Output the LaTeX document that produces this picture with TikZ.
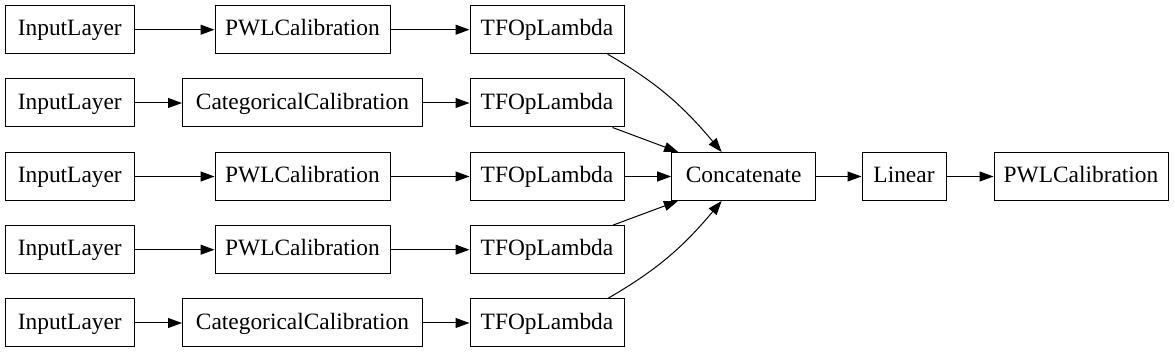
\documentclass[tikz,border=0pt]{standalone}
\usepackage{fontspec}
\setmainfont{Liberation Serif}
\usetikzlibrary{positioning, arrows.meta}

\begin{document}
\begin{tikzpicture}[
  x=0.5pt, y=-0.5pt,
  layer/.style={rectangle, draw, line width=0.5pt, inner sep=0pt,
                minimum height=24pt, text height=8.3pt, text depth=2pt,
                font=\fontsize{11.7}{14}\selectfont},
  arr/.style={-{Triangle[length=7pt,width=5pt]}, line width=0.5pt}
]
  \useasboundingbox (0,0) rectangle (1175,353);

  % inputs
  \node[layer, minimum width=64.5pt] (in1) at (69.8,29.7)  {InputLayer};
  \node[layer, minimum width=64.5pt] (in2) at (69.8,103)   {InputLayer};
  \node[layer, minimum width=64.5pt] (in3) at (69.8,176.5) {InputLayer};
  \node[layer, minimum width=64.5pt] (in4) at (69.8,249.7) {InputLayer};
  \node[layer, minimum width=64.5pt] (in5) at (69.8,323)   {InputLayer};

  % calibrators
  \node[layer, minimum width=87.5pt] (cal1) at (302.5,29.7)  {PWLCalibration};
  \node[layer, minimum width=120pt]  (cal2) at (302.5,103)   {CategoricalCalibration};
  \node[layer, minimum width=87.5pt] (cal3) at (302.5,176.5) {PWLCalibration};
  \node[layer, minimum width=87.5pt] (cal4) at (302.5,249.7) {PWLCalibration};
  \node[layer, minimum width=120pt]  (cal5) at (302.5,323)   {CategoricalCalibration};

  % lambdas
  \node[layer, minimum width=77pt] (tf1) at (547,29.7)  {TFOpLambda};
  \node[layer, minimum width=77pt] (tf2) at (547,103)   {TFOpLambda};
  \node[layer, minimum width=77pt] (tf3) at (547,176.5) {TFOpLambda};
  \node[layer, minimum width=77pt] (tf4) at (547,249.7) {TFOpLambda};
  \node[layer, minimum width=77pt] (tf5) at (547,323)   {TFOpLambda};

  % output chain
  \node[layer, minimum width=72pt] (concat) at (743.7,176.5) {Concatenate};
  \node[layer, minimum width=42pt] (linear) at (904,176.5)   {Linear};
  \node[layer, minimum width=87pt] (out)    at (1081,176.5)  {PWLCalibration};

  \draw[arr] (in1) -- (cal1);
  \draw[arr] (in2) -- (cal2);
  \draw[arr] (in3) -- (cal3);
  \draw[arr] (in4) -- (cal4);
  \draw[arr] (in5) -- (cal5);
  \draw[arr] (cal1) -- (tf1);
  \draw[arr] (cal2) -- (tf2);
  \draw[arr] (cal3) -- (tf3);
  \draw[arr] (cal4) -- (tf4);
  \draw[arr] (cal5) -- (tf5);
  \draw[arr] (tf1.-22) to[out=-30, in=130] (concat.132);
  \draw[arr] (tf2) -- (concat);
  \draw[arr] (tf3) -- (concat);
  \draw[arr] (tf4) -- (concat);
  \draw[arr] (tf5.22) to[out=30, in=-130] (concat.-132);
  \draw[arr] (concat) -- (linear);
  \draw[arr] (linear) -- (out);
\end{tikzpicture}
\end{document}
